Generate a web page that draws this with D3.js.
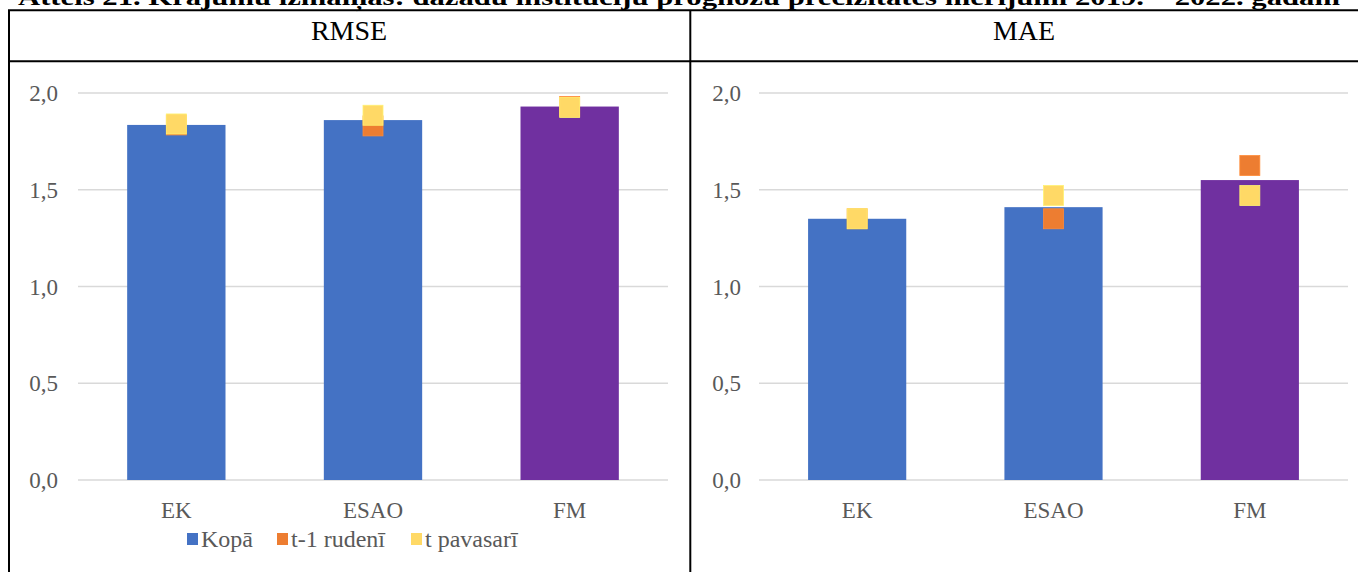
<!DOCTYPE html>
<html><head><meta charset="utf-8">
<script src="https://cdn.jsdelivr.net/npm/d3@7"></script>
<style>body{margin:0;background:#fff}svg{display:block}text{font-family:"Liberation Serif","Times New Roman",serif}</style>
</head><body><svg id="c" width="1358" height="572"></svg>
<script>
const title = "Attēls 21. Krājumu izmaiņas: dažādu institūciju prognožu precizitātes mērījumi 2019. – 2022. gadam";
const panels = ["RMSE", "MAE"];
const categories = ["EK", "ESAO", "FM"];
const seriesNames = ["Kopā", "t-1 rudenī", "t pavasarī"];
const rmseTotal = [1.835, 1.86, 1.93];
const rmseAutumn = [1.835, 1.83, 1.93];
const rmseSpring = [1.84, 1.885, 1.925];
const maeTotal = [1.35, 1.41, 1.55];
const maeAutumn = [1.35, 1.35, 1.625];
const maeSpring = [1.35, 1.47, 1.47];
const yTicks = [0, 0.5, 1.0, 1.5, 2.0];
const barColors = ["#4472C4", "#4472C4", "#7030A0"];
const seriesColors = ["#4472C4", "#ED7D31", "#FFD966"];

const svg = d3.select("#c");
const fmt = d => d3.format(".1f")(d).replace(".", ",");

// title (clipped at top, as in reference)
svg.append("text").attr("x", 18).attr("y", 5).attr("textLength", 1322).attr("lengthAdjust", "spacingAndGlyphs")
  .attr("font-size", 23).attr("font-weight", "bold").attr("fill", "#000").text(title);

// table lines
const line = (x1,y1,x2,y2) => svg.append("line").attr("x1",x1).attr("y1",y1).attr("x2",x2).attr("y2",y2).attr("stroke","#000").attr("stroke-width",2);
line(8, 10.3, 1358, 10.3);
line(8, 61.3, 1358, 61.3);
line(9, 10, 9, 572);
line(690.3, 10, 690.3, 572);

const data = [
  {name: panels[0], total: rmseTotal, autumn: rmseAutumn, spring: rmseSpring, x0: 78, x1: 668, cx: 349, lx: 58},
  {name: panels[1], total: maeTotal, autumn: maeAutumn, spring: maeSpring, x0: 759, x1: 1348, cx: 1024, lx: 741}
];

const y = d3.scaleLinear().domain([0, 2]).range([480, 93]);

data.forEach(p => {
  svg.append("text").attr("x", p.cx).attr("y", 40).attr("text-anchor", "middle").attr("font-size", 28).attr("fill", "#000").text(p.name);
  const x = d3.scaleBand().domain(categories).range([p.x0, p.x1]).paddingInner(0.5).paddingOuter(0.25);
  const g = svg.append("g");
  g.selectAll(".grid").data(yTicks).join("line")
    .attr("x1", p.x0).attr("x2", p.x1).attr("y1", d => y(d)).attr("y2", d => y(d))
    .attr("stroke", "#D9D9D9").attr("stroke-width", 1.5);
  g.selectAll(".yl").data(yTicks).join("text")
    .attr("x", p.lx).attr("y", d => y(d) + 8).attr("text-anchor", "end")
    .attr("font-size", 23).attr("fill", "#595959").text(fmt);
  g.selectAll(".bar").data(categories).join("rect")
    .attr("x", d => x(d)).attr("width", x.bandwidth())
    .attr("y", (d,i) => y(p.total[i])).attr("height", (d,i) => y(0) - y(p.total[i]))
    .attr("fill", (d,i) => barColors[i]);
  const ms = 20;
  [[p.autumn, seriesColors[1]], [p.spring, seriesColors[2]]].forEach(([vals, col]) => {
    g.selectAll(null).data(categories).join("rect")
      .attr("x", d => x(d) + x.bandwidth()/2 - ms/2).attr("width", ms)
      .attr("y", (d,i) => y(vals[i]) - ms/2).attr("height", ms)
      .attr("fill", col).attr("stroke", d3.color(col).brighter(0.3)).attr("stroke-width", 0.8);
  });
  g.selectAll(".xl").data(categories).join("text")
    .attr("x", d => x(d) + x.bandwidth()/2).attr("y", 518).attr("text-anchor", "middle")
    .attr("font-size", 23).attr("fill", "#595959").text(d => d);
});

// legend (left panel)
const legX = [187, 277, 411];
const lg = svg.append("g");
seriesNames.forEach((s, i) => {
  lg.append("rect").attr("x", legX[i]).attr("y", 533).attr("width", 11).attr("height", 12).attr("fill", seriesColors[i]);
  lg.append("text").attr("x", legX[i] + 14).attr("y", 547).attr("font-size", 24).attr("fill", "#595959").text(s);
});
</script></body></html>
